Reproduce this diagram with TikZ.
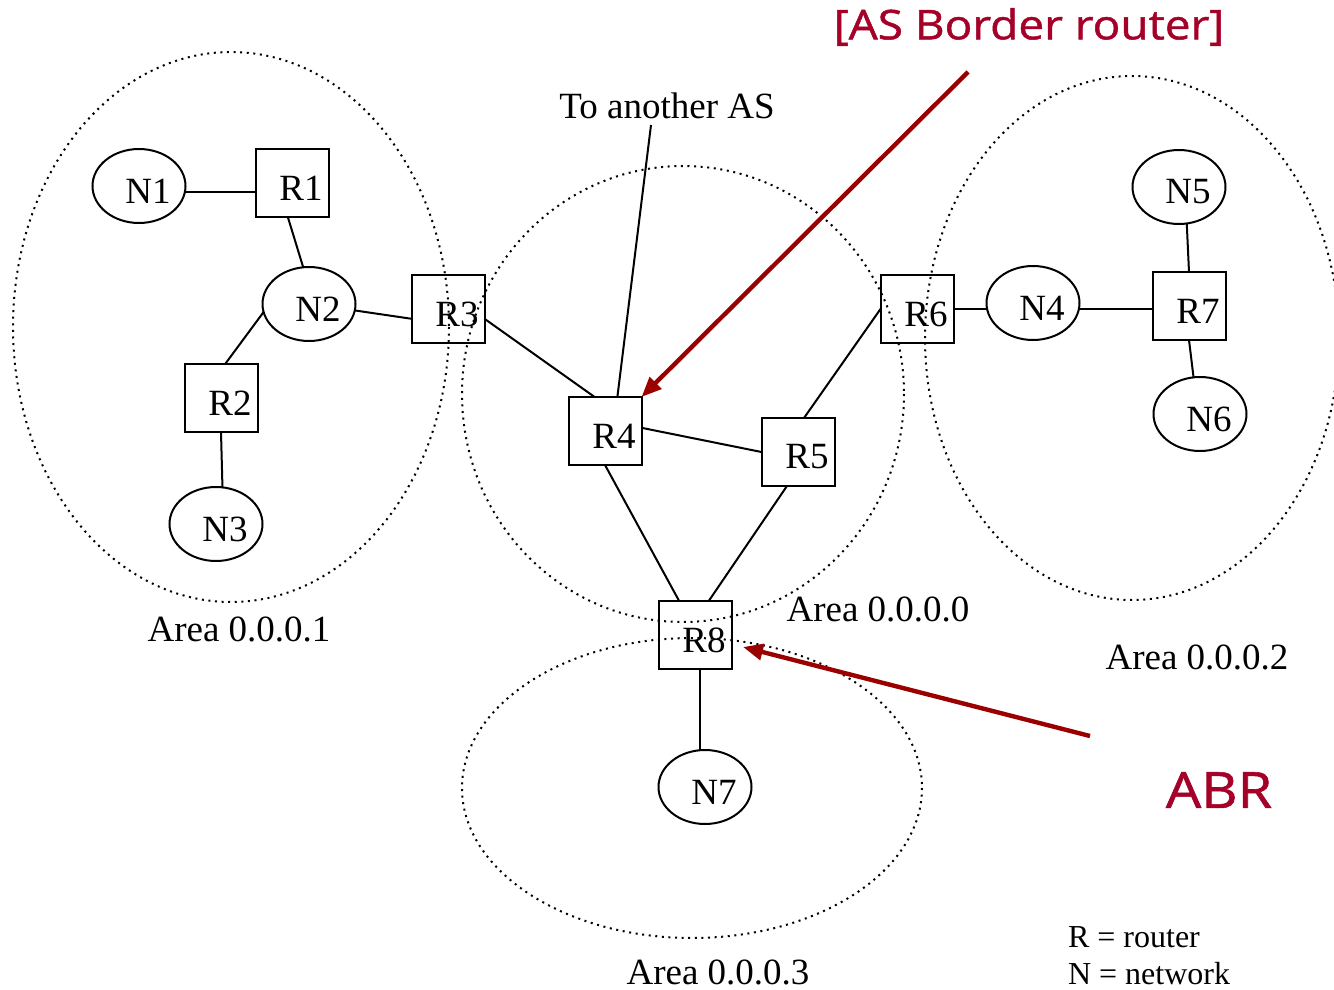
\documentclass[tikz,border=0pt]{standalone}
\usepackage{fontspec}
\setmainfont{Liberation Serif}
\newfontfamily\notefont[FakeStretch=1.12, FakeBold=1.2]{Open Sans}
\usepackage{tikz}
\usetikzlibrary{shapes.geometric,arrows.meta,positioning}
\definecolor{notered}{RGB}{165,0,40}
\definecolor{arrowred}{RGB}{155,0,0}
\tikzset{
  nodetext/.style={xshift=4.5pt, yshift=-2.5pt},
  router/.style={draw, line width=1pt, minimum width=36.5pt, minimum height=34pt,
    inner sep=0pt, outer sep=0pt, label={[nodetext]center:#1}},
  network/.style={draw, ellipse, line width=1pt, minimum width=46.5pt, minimum height=37pt,
    inner sep=0pt, outer sep=0pt, label={[nodetext]center:#1}},
  area/.style={line width=1pt, dash pattern=on 1pt off 2.3pt},
  link/.style={line width=1pt},
  note/.style={text=notered, font=\notefont\fontsize{20.5}{24}\selectfont},
  pointer/.style={arrowred, line width=2.2pt, -{Triangle[length=10pt,width=8pt]}},
}

\begin{document}
\begin{tikzpicture}[x=0.5pt, y=-0.5pt, font=\fontsize{18.5}{22}\selectfont]
  \useasboundingbox (0,0) rectangle (1334,990);

  % Areas
  \draw[area] (231,327) ellipse [x radius=218, y radius=275];
  \draw[area] (683,394) ellipse [x radius=221, y radius=228];
  \draw[area] (1132,338) ellipse [x radius=207, y radius=262];
  \draw[area] (692,788) ellipse [x radius=230, y radius=150];

  % Routers and networks
  \foreach \name/\x/\y in {R1/292/183, R2/221/398, R3/448/309, R4/605/431,
      R5/798/452, R6/917/309, R7/1189/306, R8/695/635}
    \node[router=\name] (\name) at (\x,\y) {};
  \foreach \name/\x/\y in {N1/139/186, N2/309/304, N3/216/524, N4/1033/303,
      N5/1179/187, N6/1200/414, N7/705/787}
    \node[network=\name] (\name) at (\x,\y) {};

  % Links
  \foreach \a/\b in {R1.-97/N2.99, N2.-8/R3.-165, N2.190/R2.83, R2.south/N3.80,
      R3.-15/R4.107, R4.5/R5.west, R4.south/R8.115, R5.-108/R8.68, R5.80/R6.west,
      R7.north/N5.-78, R7.south/N6.100}
    \draw[link] (\a) -- (\b);
  \draw[link] (N1.-8) -- (N1.-8 -| R1.west);
  \draw[link] (R6.east) -- (R6.east -| N4.west);
  \draw[link] (N4.-8) -- (N4.-8 -| R7.west);
  \draw[link] (N7.98) -- (N7.98 |- R8.south);

  \node (toAS) at (667,106) {To another AS};
  \coordinate (asend) at (651,125);
  \draw[link] (R4.70) -- (asend);

  % Area labels
  \node (area1) at (239,629) {Area 0.0.0.1};
  \node (area0) at (878,609) {Area 0.0.0.0};
  \node (area2) at (1197,657) {Area 0.0.0.2};
  \node (area3) at (718,972) {Area 0.0.0.3};

  % Legend
  \node[anchor=west, font=\fontsize{16}{19}\selectfont] (legR) at (1061,937) {R = router};
  \node[anchor=west, font=\fontsize{16}{19}\selectfont] (legN) at (1061,974) {N = network};

  % Notes
  \node[note] (asbr) at (1029,27) {[AS Border router]};
  \node[note, font=\notefont\fontsize{25}{30}\selectfont] (abr) at (1219,790) {ABR};
  \coordinate (asbrtail) at (968,72);
  \coordinate (abrtail) at (1090,736);
  \coordinate (abrtip) at (743,647);
  \draw[pointer] (asbrtail) -- (R4.north east);
  \draw[pointer] (abrtail) -- (abrtip);
\end{tikzpicture}
\end{document}
